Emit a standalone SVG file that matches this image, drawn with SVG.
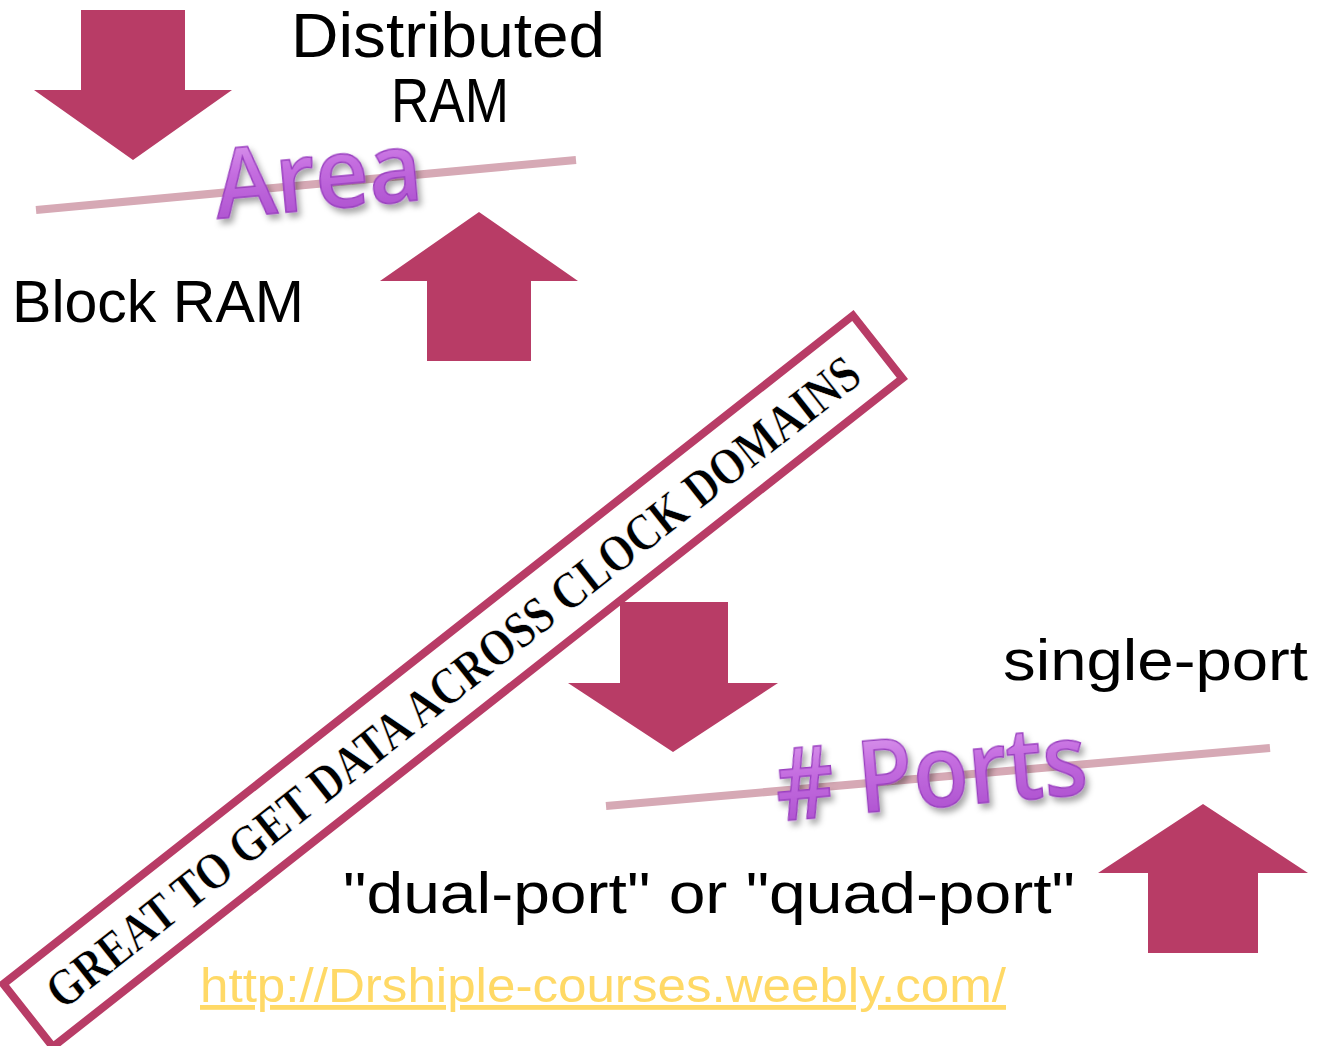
<svg xmlns="http://www.w3.org/2000/svg" width="1319" height="1046" viewBox="0 0 1319 1046">
<style>
.arrow{fill:#b83c66}
.bar{stroke:#d6a9b5;stroke-width:8;stroke-linecap:butt}
.lbl{font-family:"Liberation Sans",Arial,sans-serif;fill:#000}
.fx{font-family:"Open Sans","Liberation Sans",sans-serif;font-weight:600;fill:url(#pg);stroke:#9a3fc0;stroke-width:1.5;filter:url(#sh)}
.ban{font-family:"Liberation Serif","Times New Roman",serif;font-weight:bold;fill:#000;stroke:#fff;stroke-width:0.6}
</style>
<defs>
<linearGradient id="pg" x1="0" y1="0" x2="0" y2="1">
<stop offset="0" stop-color="#e9b3f5"/>
<stop offset="0.45" stop-color="#c56ee0"/>
<stop offset="1" stop-color="#a447c9"/>
</linearGradient>
<filter id="sh" x="-10%" y="-10%" width="130%" height="140%">
<feDropShadow dx="3" dy="5" stdDeviation="3" flood-color="#000" flood-opacity="0.35"/>
</filter>
</defs>
<g id="connectors">
<line class="bar" x1="36" y1="210" x2="576" y2="160"/>
<line class="bar" x1="606" y1="806" x2="1270" y2="748"/>
</g>
<g id="arrow-down-area"><polygon class="arrow" points="81,10 185,10 185,90 232,90 133,160 34,90 81,90"/></g>
<g id="arrow-up-area"><polygon class="arrow" points="479,212 578,281 531,281 531,361 427,361 427,281 380,281"/></g>
<g id="arrow-down-ports"><polygon class="arrow" points="620,602 728,602 728,683 778,683 673,752 568,683 620,683"/></g>
<g id="arrow-up-ports"><polygon class="arrow" points="1203,804 1308,873 1258,873 1258,953 1148,953 1148,873 1098,873"/></g>
<g id="distributed-ram">
<text class="lbl" x="448" y="57" font-size="63" text-anchor="middle" textLength="314" lengthAdjust="spacingAndGlyphs">Distributed</text>
<text class="lbl" x="450" y="122" font-size="63" text-anchor="middle" textLength="118" lengthAdjust="spacingAndGlyphs">RAM</text>
</g>
<g id="area">
<text class="fx" x="0" y="0" font-size="96" text-anchor="middle" textLength="208" lengthAdjust="spacingAndGlyphs" transform="translate(321,209) rotate(-5.3)">Area</text>
</g>
<g id="block-ram">
<text class="lbl" x="12" y="322" font-size="60" textLength="292" lengthAdjust="spacingAndGlyphs">Block RAM</text>
</g>
<g id="banner" transform="translate(452.5,681.5) rotate(-38.2)">
<rect x="-540" y="-40" width="1081" height="80" fill="#fff" stroke="#b83c66" stroke-width="8"/>
<text class="ban" x="0" y="18" font-size="52" text-anchor="middle" textLength="1020" lengthAdjust="spacingAndGlyphs">GREAT TO GET DATA ACROSS CLOCK DOMAINS</text>
</g>
<g id="single-port">
<text class="lbl" x="1003" y="680" font-size="58" textLength="305" lengthAdjust="spacingAndGlyphs">single-port</text>
</g>
<g id="ports">
<text class="fx" x="0" y="0" font-size="100" text-anchor="middle" textLength="312" lengthAdjust="spacingAndGlyphs" transform="translate(934,807) rotate(-5)"># Ports</text>
</g>
<g id="dual-quad">
<text class="lbl" x="343" y="913" font-size="58" textLength="732" lengthAdjust="spacingAndGlyphs">"dual-port" or "quad-port"</text>
</g>
<g id="url">
<text x="200" y="1002" font-family="Liberation Sans,Arial,sans-serif" font-size="48" fill="#ffd966" text-decoration="underline" textLength="806" lengthAdjust="spacingAndGlyphs">http://Drshiple-courses.weebly.com/</text>
</g>
</svg>
